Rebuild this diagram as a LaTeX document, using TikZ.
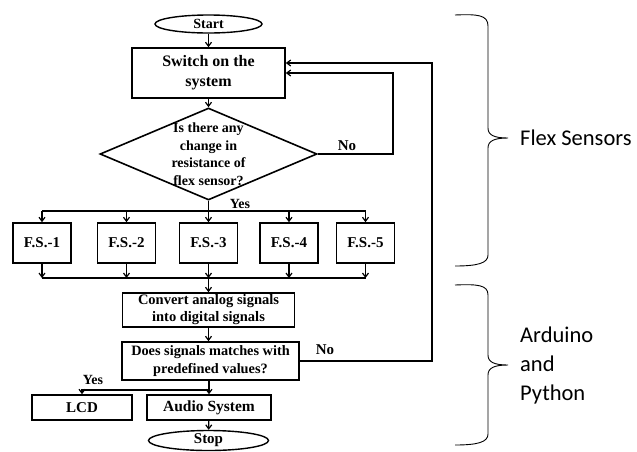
\documentclass[tikz,border=0pt]{standalone}
\usepackage{fontspec}
\setmainfont{Liberation Serif}
\newfontfamily\calib{Carlito}
\usetikzlibrary{shapes.geometric,arrows.meta}
\tikzset{
  box/.style={draw, line width=1.6pt, rectangle, inner sep=0pt, align=center, font=\bfseries},
  oval/.style={draw, line width=1.4pt, ellipse, inner sep=0pt, font=\bfseries},
  conn/.style={line width=1.2pt},
  arr/.style={conn, -{Straight Barb[length=4pt,width=6pt]}},
  lbl/.style={font=\bfseries\fontsize{15}{18}\selectfont, inner sep=0pt},
  brace/.style={line width=0.9pt},
  side/.style={font=\calib\fontsize{22.5}{29}\selectfont, inner sep=0pt, align=left, anchor=west}
}
\begin{document}
\begin{tikzpicture}[x=1pt,y=-1pt]
\useasboundingbox (0,0) rectangle (637,451);
\fill[white] (0,0) rectangle (637,451);
% nodes
\node[oval, minimum width=107pt, minimum height=18pt, font=\bfseries\fontsize{14}{16}\selectfont] (start) at (208.5,24) {Start};
\node[box, minimum width=153pt, minimum height=50pt, font=\bfseries\fontsize{16}{20}\selectfont] (sw) at (208.5,73) {Switch on the\\system};
\node[draw, line width=1.6pt, diamond, minimum width=217pt, minimum height=92pt, inner sep=0pt] (dec) at (208.5,154) {};
\node[align=center, inner sep=0pt, font=\bfseries\fontsize{14}{17.5}\selectfont] (dectext) at (dec.center) {Is there any\\change in\\resistance of\\flex sensor?};
\foreach \i/\x in {1/42,2/126.5,3/208.5,4/289,5/365.5}{
  \node[box, minimum width=58pt, minimum height=40pt, font=\bfseries\fontsize{15}{18}\selectfont] (fs\i) at (\x,243) {F.S.-\i};
}
\node[box, minimum width=172pt, minimum height=34pt, font=\bfseries\fontsize{14.5}{17}\selectfont] (conv) at (208.5,310) {Convert analog signals\\into digital signals};
\node[box, minimum width=177pt, minimum height=38pt, font=\bfseries\fontsize{14.3}{17.5}\selectfont] (does) at (210.5,361) {Does signals matches with\\predefined values?};
\node[box, minimum width=100pt, minimum height=25pt, font=\bfseries\fontsize{15}{18}\selectfont] (lcd) at (82,407.5) {LCD};
\node[box, minimum width=124pt, minimum height=25pt, font=\bfseries\fontsize{15.5}{18}\selectfont] (audio) at (209,407.5) {Audio System};
\node[oval, minimum width=120pt, minimum height=20pt, font=\bfseries\fontsize{15}{18}\selectfont] (stop) at (208.5,440.5) {Stop};
% bus coordinates
\coordinate (tbl) at (42,211);
\coordinate (tbr) at (365.5,211);
\coordinate (bbl) at (42,278);
\coordinate (bbr) at (365.5,278);
\coordinate (bbc) at (208.5,278);
\coordinate (ysplit) at (209,390);
% connectors
\draw[arr] (start) -- (sw);
\draw[arr] (sw) -- (dec);
\draw[arr] (dec.south) -- (fs3.north);
\draw[conn] (tbl) -- (tbr);
\foreach \i in {1,2,4,5}{ \draw[arr] (tbl -| fs\i.north) -- (fs\i.north); }
\draw[conn] (bbl) -- (bbr);
\foreach \i in {1,2,3,4,5}{ \draw[arr] (fs\i.south) -- (bbl -| fs\i.south); }
\draw[arr] (bbc) -- (bbc |- conv.north);
\draw[arr] (conv.south -| bbc) -- (does.north -| bbc);
\draw[arr] (does.south -| audio.north) -- (audio.north);
\draw[arr] (ysplit) -| (lcd.north);
\draw[arr] (audio) -- (stop);
\draw[arr] (dec.east) -- (393,154) |- (sw.east);
\draw[arr] (does.east) -- (432,361) |- ([yshift=10pt]sw.east);
% labels
\node[lbl] (no1) at (347,146) {No};
\node[lbl, font=\bfseries\fontsize{14}{16}\selectfont] (yes1) at (240,204) {Yes};
\node[lbl] (no2) at (325,350) {No};
\node[lbl, font=\bfseries\fontsize{14}{16}\selectfont] (yes2) at (93,380) {Yes};
% braces
\draw[brace] (455,15) .. controls (478,14) and (488,15) .. (488,26) -- (488,128)
  .. controls (488,135) and (494,138) .. (508,138)
  .. controls (494,138) and (488,141) .. (488,148) -- (488,255)
  .. controls (488,263) and (478,266) .. (455,266);
\draw[brace] (455,285) .. controls (478,284) and (488,285) .. (488,295) -- (488,355)
  .. controls (488,362) and (494,365) .. (508,365)
  .. controls (494,365) and (488,368) .. (488,375) -- (488,434)
  .. controls (488,442) and (478,445) .. (455,445);
\node[side] (fsl) at (520,138) {Flex Sensors};
\node[side] (apl) at (520,365) {Arduino\\and\\Python};
\end{tikzpicture}
\end{document}
